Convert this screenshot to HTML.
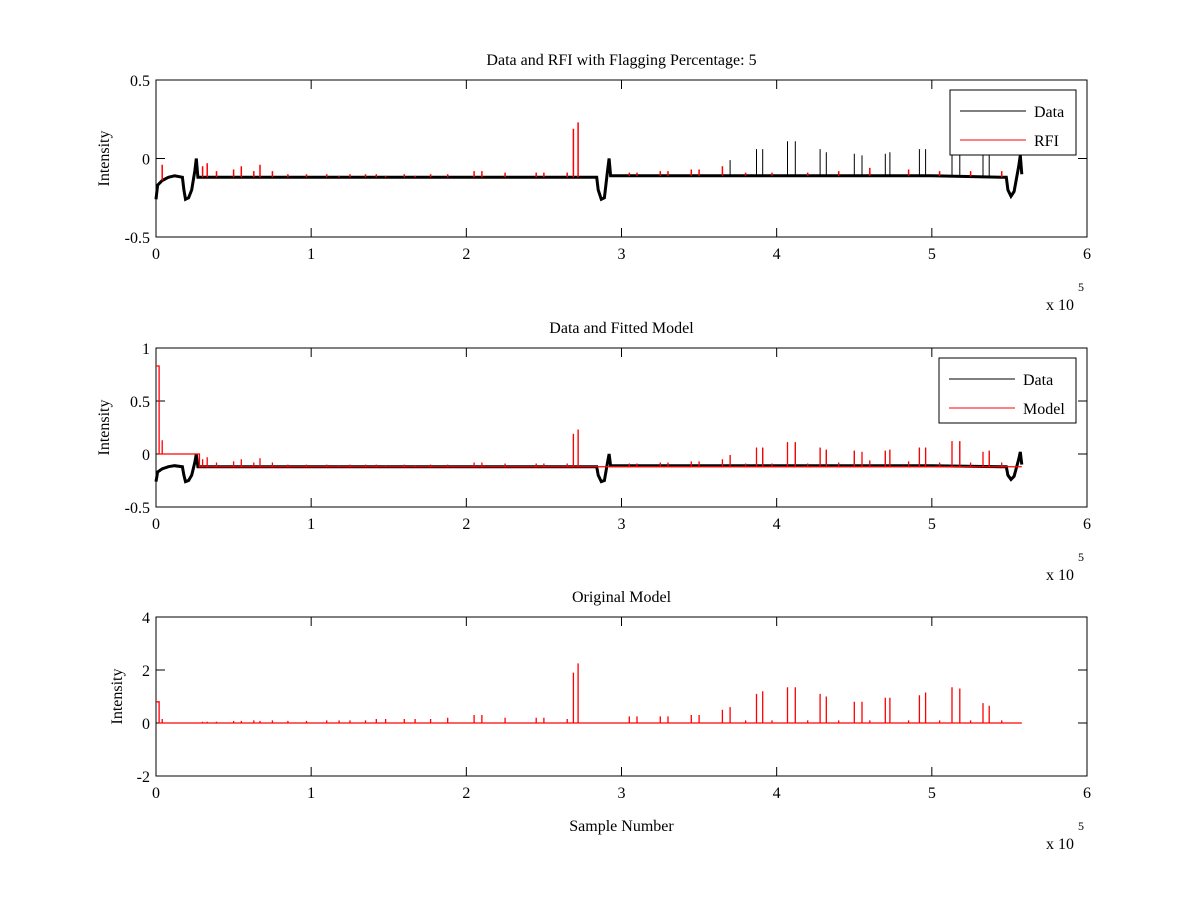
<!DOCTYPE html>
<html><head><meta charset="utf-8"><style>
body{margin:0;background:#fff}
svg text{font-family:"Liberation Serif",serif;fill:#000}
</style></head><body>
<svg id="c" width="1200" height="900" xmlns="http://www.w3.org/2000/svg"></svg>
<script>
// data (x in units of 1e5 samples)
const xTicks=[0,1,2,3,4,5,6];
const baseShapeX=[0,0.01,0.04,0.08,0.12,0.17,0.18,0.19,0.21,0.23,0.25,0.26,0.27,0.5,1,1.5,2,2.5,2.84,2.85,2.87,2.89,2.91,2.92,2.93,3.0,3.5,4,4.5,5,5.45,5.48,5.49,5.51,5.53,5.56,5.57,5.58];
const baseShapeY=[-0.26,-0.17,-0.14,-0.12,-0.11,-0.12,-0.2,-0.26,-0.25,-0.2,-0.08,0.0,-0.12,-0.12,-0.12,-0.12,-0.12,-0.12,-0.12,-0.2,-0.26,-0.25,-0.08,0.0,-0.11,-0.11,-0.11,-0.11,-0.11,-0.11,-0.12,-0.12,-0.2,-0.24,-0.21,-0.05,0.02,-0.1];
const bigX=[2.69,2.72,3.7,3.87,3.91,4.07,4.12,4.28,4.32,4.5,4.55,4.7,4.73,4.92,4.96,5.13,5.18,5.33,5.37];
const bigH1=[0.19,0.23,-0.01,0.06,0.06,0.11,0.11,0.06,0.04,0.03,0.02,0.03,0.04,0.06,0.06,0.12,0.12,0.02,0.03];
const bigH3=[1.9,2.25,0.6,1.1,1.2,1.35,1.35,1.1,1.0,0.8,0.8,0.95,0.95,1.05,1.15,1.35,1.3,0.75,0.65];
const smallX=[0.04,0.3,0.33,0.39,0.5,0.55,0.63,0.67,0.75,0.85,0.97,1.1,1.18,1.25,1.35,1.42,1.48,1.6,1.67,1.77,1.88,2.05,2.1,2.25,2.45,2.5,2.65,3.05,3.1,3.25,3.3,3.45,3.5,3.65,3.8,3.97,4.2,4.4,4.6,4.85,5.05,5.25,5.45];
const smallH1=[-0.04,-0.05,-0.03,-0.08,-0.07,-0.05,-0.08,-0.04,-0.08,-0.1,-0.1,-0.1,-0.11,-0.1,-0.1,-0.1,-0.11,-0.1,-0.11,-0.1,-0.1,-0.08,-0.08,-0.09,-0.09,-0.09,-0.09,-0.09,-0.09,-0.08,-0.08,-0.07,-0.07,-0.05,-0.09,-0.09,-0.09,-0.08,-0.06,-0.07,-0.08,-0.08,-0.08];
const smallH2=[0.13,-0.05,-0.03,-0.08,-0.07,-0.05,-0.08,-0.04,-0.08,-0.1,-0.1,-0.1,-0.11,-0.1,-0.1,-0.1,-0.11,-0.1,-0.11,-0.1,-0.1,-0.08,-0.08,-0.09,-0.09,-0.09,-0.09,-0.09,-0.09,-0.08,-0.08,-0.07,-0.07,-0.05,-0.09,-0.09,-0.09,-0.08,-0.06,-0.07,-0.08,-0.08,-0.08];
const smallH3=[0.15,0.05,0.05,0.05,0.08,0.08,0.1,0.08,0.1,0.08,0.08,0.1,0.1,0.1,0.1,0.15,0.15,0.15,0.15,0.15,0.2,0.3,0.3,0.2,0.2,0.2,0.15,0.25,0.25,0.25,0.25,0.3,0.3,0.5,0.1,0.1,0.1,0.1,0.1,0.1,0.1,0.1,0.1];

const NS="http://www.w3.org/2000/svg";
const svg=document.getElementById('c');
function el(t,a,p){const e=document.createElementNS(NS,t);for(const k in a)e.setAttribute(k,a[k]);(p||svg).appendChild(e);return e;}
function txt(s,a,p){const e=el('text',a,p);e.textContent=s;return e;}
const X0=156,X1=1087;
const sx=v=>X0+(v/6)*(X1-X0);
function interp(x){for(let i=1;i<baseShapeX.length;i++){if(x<=baseShapeX[i]){const t=(x-baseShapeX[i-1])/(baseShapeX[i]-baseShapeX[i-1]);return baseShapeY[i-1]+t*(baseShapeY[i]-baseShapeY[i-1]);}}return baseShapeY[baseShapeY.length-1];}

function axes(name,top,bot,ymin,ymax,yticks,title,xlabel,ylx){
  const g=el('g',{});
  
  
  const sy=v=>bot-(v-ymin)/(ymax-ymin)*(bot-top);
  const bx=el('rect',{x:X0,y:top,width:X1-X0,height:bot-top,fill:'#fff',stroke:'#000','stroke-width':1},g);
  
  xTicks.forEach(t=>{const x=sx(t);
    el('line',{x1:x,x2:x,y1:bot,y2:bot-9,stroke:'#000'},g);el('line',{x1:x,x2:x,y1:top,y2:top+9,stroke:'#000'},g);
    const l=txt(t,{x:x,y:bot+22,'text-anchor':'middle','font-size':16},g);});
  yticks.forEach(t=>{const y=sy(t);
    el('line',{x1:X0,x2:X0+9,y1:y,y2:y,stroke:'#000'},g);el('line',{x1:X1,x2:X1-9,y1:y,y2:y,stroke:'#000'},g);
    const l=txt(t,{x:X0-6,y:y+6,'text-anchor':'end','font-size':16},g);});
  const ex=txt('x 10',{x:1046,y:bot+73,'font-size':16},g);
  txt('5',{x:1078,y:bot+54,'font-size':12},g);
  const tt=txt(title,{x:(X0+X1)/2,y:top-15,'text-anchor':'middle','font-size':16},g);
  const yl=txt('Intensity',{x:0,y:0,'text-anchor':'middle','font-size':16,transform:`translate(${ylx},${(top+bot)/2}) rotate(-90)`},g);
  
  if(xlabel){const xl=txt(xlabel,{x:(X0+X1)/2,y:bot+55,'text-anchor':'middle','font-size':16},g);}
  return {g,sy};
}
function dataPath(sy){let d='';for(let i=0;i<baseShapeX.length;i++){d+=(i?'L':'M')+sx(baseShapeX[i]).toFixed(1)+','+sy(baseShapeY[i]).toFixed(1);}return d;}
function spikes(xs,hs,base,sy){let d='';xs.forEach((x,i)=>{const b=base(x);d+='M'+sx(x).toFixed(1)+','+sy(b).toFixed(1)+'V'+sy(hs[i]).toFixed(1);});return d;}
function legend(g,x,y,w,items){
  const lg=el('g',{},g);
  el('rect',{x:x,y:y,width:w,height:65,fill:'#fff',stroke:'#000'},lg);
  items.forEach((it,i)=>{const yy=y+21+i*29;
    el('line',{x1:x+10,x2:x+76,y1:yy,y2:yy,stroke:it[1]},lg);
    const t=txt(it[0],{x:x+84,y:yy+6,'font-size':16},lg);});
}

// Panel 1
const p1=axes('panel-data-rfi',80,237,-0.5,0.5,[0.5,0,-0.5],'Data and RFI with Flagging Percentage: 5',null,109);
const d1=el('path',{d:dataPath(p1.sy),fill:'none',stroke:'#000','stroke-width':3},p1.g);

const b1=el('path',{d:spikes(bigX.slice(2),bigH1.slice(2),interp,p1.sy),stroke:'#000','stroke-width':1},p1.g);

const r1=el('path',{d:spikes(smallX,smallH1,interp,p1.sy)+spikes(bigX.slice(0,2),bigH1.slice(0,2),interp,p1.sy),stroke:'#f00','stroke-width':1.5},p1.g);

legend(p1.g,950,90,126,[['Data','#000'],['RFI','#f00']]);

// Panel 2
const p2=axes('panel-fitted-model',348,507,-0.5,1,[1,0.5,0,-0.5],'Data and Fitted Model',null,109);
const d2=el('path',{d:dataPath(p2.sy),fill:'none',stroke:'#000','stroke-width':3},p2.g);

const b2=el('path',{d:spikes(bigX,bigH1,interp,p2.sy),stroke:'#000','stroke-width':1},p2.g);

const mb=x=>x<0.28?0:-0.12;
let md='M'+sx(0)+','+p2.sy(0.83)+'H'+sx(0.02)+'V'+p2.sy(0)+'H'+sx(0.28)+'V'+p2.sy(-0.12)+'H'+sx(5.58);
const m2=el('path',{d:md+spikes(smallX,smallH2,mb,p2.sy)+spikes(bigX,bigH1,mb,p2.sy),fill:'none',stroke:'#f00','stroke-width':1.3},p2.g);

legend(p2.g,939,358,137,[['Data','#000'],['Model','#f00']]);

// Panel 3
const p3=axes('panel-original-model',617,776,-2,4,[4,2,0,-2],'Original Model','Sample Number',122);
let od='M'+sx(0)+','+p3.sy(0.8)+'H'+sx(0.02)+'V'+p3.sy(0)+'H'+sx(5.58);
const o3=el('path',{d:od+spikes(smallX,smallH3,()=>0,p3.sy)+spikes(bigX,bigH3,()=>0,p3.sy),fill:'none',stroke:'#f00','stroke-width':1.3},p3.g);

</script>
</body></html>
